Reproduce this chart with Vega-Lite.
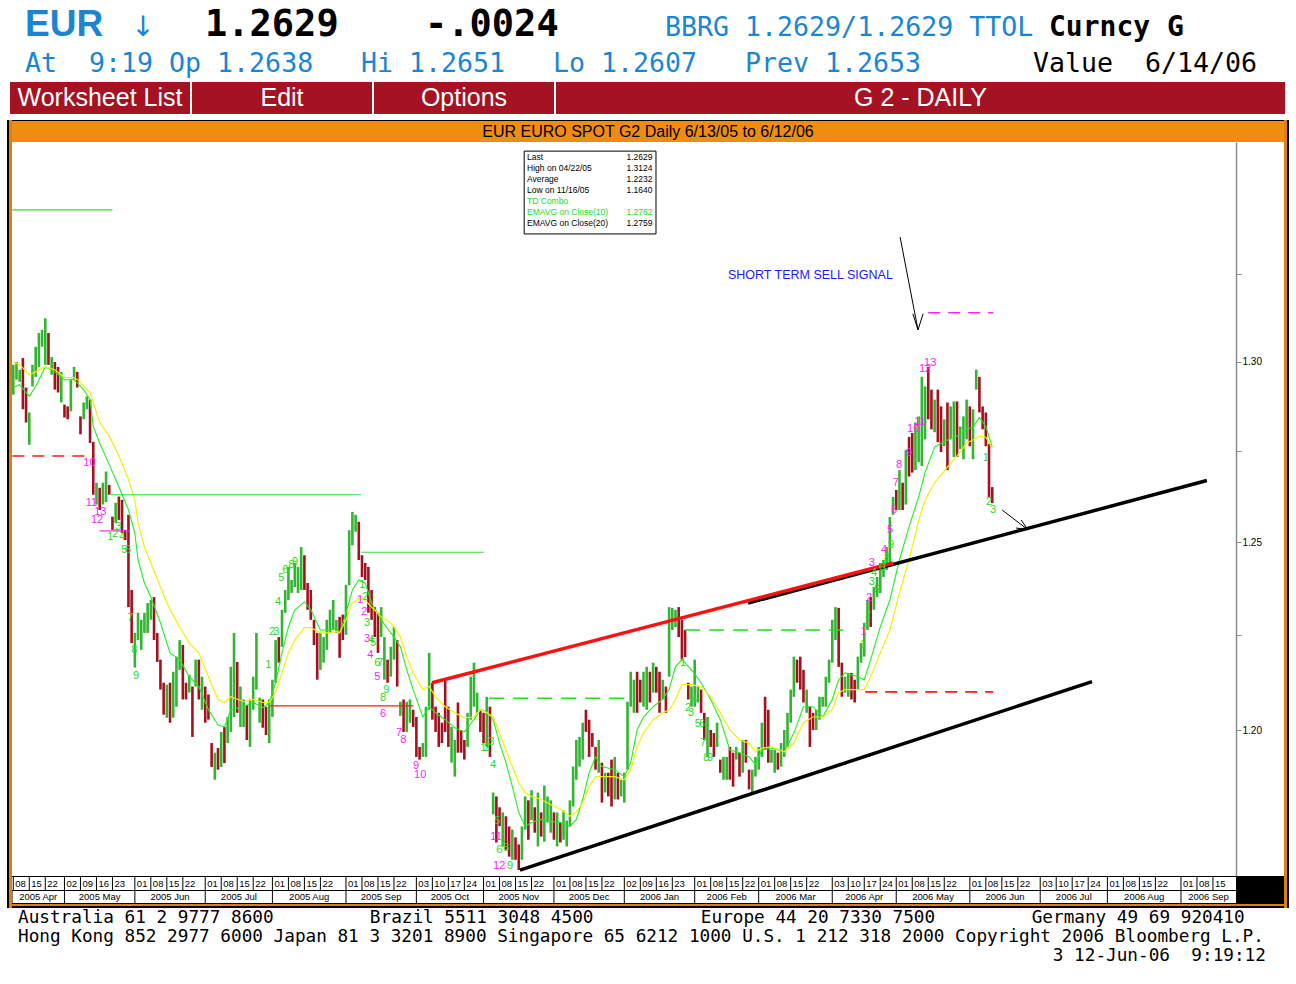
{
"$schema":"https://vega.github.io/schema/vega-lite/v6.json",
"background":"#ffffff","padding":0,"spacing":0,
"config":{"view":{"stroke":null},"concat":{"spacing":0},"font":"Liberation Sans"},
"datasets":{
"bars":[
{"t":0,"hi":1.2992,"lo":1.2908,"dir":"up"},{"t":1,"hi":1.3000,"lo":1.2950,"dir":"up"},{"t":2,"hi":1.2978,"lo":1.2944,"dir":"up"},{"t":3,"hi":1.3011,"lo":1.2867,"dir":"down"},{"t":4,"hi":1.2928,"lo":1.2830,"dir":"down"},{"t":5,"hi":1.2858,"lo":1.2768,"dir":"up"},{"t":6,"hi":1.2992,"lo":1.2931,"dir":"up"},{"t":7,"hi":1.3043,"lo":1.2958,"dir":"up"},{"t":8,"hi":1.3082,"lo":1.2986,"dir":"up"},{"t":9,"hi":1.3091,"lo":1.3043,"dir":"up"},
{"t":10,"hi":1.3124,"lo":1.2992,"dir":"up"},{"t":11,"hi":1.3082,"lo":1.2992,"dir":"down"},{"t":12,"hi":1.3014,"lo":1.2964,"dir":"up"},{"t":13,"hi":1.3000,"lo":1.2922,"dir":"down"},{"t":14,"hi":1.2986,"lo":1.2914,"dir":"down"},{"t":15,"hi":1.2972,"lo":1.2886,"dir":"up"},{"t":16,"hi":1.2880,"lo":1.2844,"dir":"down"},{"t":17,"hi":1.2875,"lo":1.2839,"dir":"down"},{"t":18,"hi":1.2950,"lo":1.2861,"dir":"up"},{"t":19,"hi":1.2986,"lo":1.2950,"dir":"up"},
{"t":20,"hi":1.2972,"lo":1.2928,"dir":"down"},{"t":21,"hi":1.2847,"lo":1.2797,"dir":"down"},{"t":22,"hi":1.2886,"lo":1.2839,"dir":"up"},{"t":23,"hi":1.2903,"lo":1.2867,"dir":"up"},{"t":24,"hi":1.2894,"lo":1.2773,"dir":"down"},{"t":25,"hi":1.2776,"lo":1.2630,"dir":"down"},{"t":26,"hi":1.2663,"lo":1.2603,"dir":"up"},{"t":27,"hi":1.2649,"lo":1.2588,"dir":"down"},{"t":28,"hi":1.2663,"lo":1.2603,"dir":"up"},{"t":29,"hi":1.2694,"lo":1.2610,"dir":"up"},
{"t":30,"hi":1.2657,"lo":1.2630,"dir":"down"},{"t":31,"hi":1.2570,"lo":1.2534,"dir":"down"},{"t":32,"hi":1.2608,"lo":1.2553,"dir":"up"},{"t":33,"hi":1.2625,"lo":1.2561,"dir":"down"},{"t":34,"hi":1.2616,"lo":1.2525,"dir":"down"},{"t":35,"hi":1.2534,"lo":1.2506,"dir":"down"},{"t":36,"hi":1.2575,"lo":1.2325,"dir":"down"},{"t":37,"hi":1.2371,"lo":1.2229,"dir":"down"},{"t":38,"hi":1.2256,"lo":1.2164,"dir":"up"},{"t":39,"hi":1.2310,"lo":1.2237,"dir":"up"},
{"t":40,"hi":1.2291,"lo":1.2211,"dir":"up"},{"t":41,"hi":1.2310,"lo":1.2256,"dir":"up"},{"t":42,"hi":1.2336,"lo":1.2256,"dir":"up"},{"t":43,"hi":1.2344,"lo":1.2291,"dir":"up"},{"t":44,"hi":1.2352,"lo":1.2237,"dir":"down"},{"t":45,"hi":1.2256,"lo":1.2179,"dir":"down"},{"t":46,"hi":1.2185,"lo":1.2106,"dir":"down"},{"t":47,"hi":1.2124,"lo":1.2040,"dir":"down"},{"t":48,"hi":1.2119,"lo":1.2032,"dir":"up"},{"t":49,"hi":1.2124,"lo":1.2019,"dir":"down"},
{"t":50,"hi":1.2153,"lo":1.2032,"dir":"up"},{"t":51,"hi":1.2193,"lo":1.2061,"dir":"up"},{"t":52,"hi":1.2237,"lo":1.2158,"dir":"up"},{"t":53,"hi":1.2224,"lo":1.2080,"dir":"down"},{"t":54,"hi":1.2124,"lo":1.2080,"dir":"down"},{"t":55,"hi":1.2145,"lo":1.2098,"dir":"up"},{"t":56,"hi":1.2114,"lo":1.1982,"dir":"down"},{"t":57,"hi":1.2185,"lo":1.2114,"dir":"up"},{"t":58,"hi":1.2185,"lo":1.2080,"dir":"down"},{"t":59,"hi":1.2140,"lo":1.2053,"dir":"up"},
{"t":60,"hi":1.2114,"lo":1.2019,"dir":"down"},{"t":61,"hi":1.2093,"lo":1.2027,"dir":"down"},{"t":62,"hi":1.1966,"lo":1.1904,"dir":"down"},{"t":63,"hi":1.1941,"lo":1.1871,"dir":"up"},{"t":64,"hi":1.1953,"lo":1.1897,"dir":"down"},{"t":65,"hi":1.1995,"lo":1.1904,"dir":"up"},{"t":66,"hi":1.2008,"lo":1.1914,"dir":"down"},{"t":67,"hi":1.2034,"lo":1.1966,"dir":"up"},{"t":68,"hi":1.2166,"lo":1.1995,"dir":"up"},{"t":69,"hi":1.2256,"lo":1.2034,"dir":"up"},
{"t":70,"hi":1.2179,"lo":1.2045,"dir":"down"},{"t":71,"hi":1.2114,"lo":1.2008,"dir":"up"},{"t":72,"hi":1.2080,"lo":1.2008,"dir":"up"},{"t":73,"hi":1.2066,"lo":1.1974,"dir":"down"},{"t":74,"hi":1.2080,"lo":1.1956,"dir":"up"},{"t":75,"hi":1.2140,"lo":1.2053,"dir":"up"},{"t":76,"hi":1.2256,"lo":1.2106,"dir":"up"},{"t":77,"hi":1.2085,"lo":1.2019,"dir":"up"},{"t":78,"hi":1.2080,"lo":1.2006,"dir":"down"},{"t":79,"hi":1.2061,"lo":1.1987,"dir":"down"},
{"t":80,"hi":1.2080,"lo":1.1966,"dir":"up"},{"t":81,"hi":1.2132,"lo":1.2034,"dir":"up"},{"t":82,"hi":1.2237,"lo":1.2124,"dir":"up"},{"t":83,"hi":1.2245,"lo":1.2177,"dir":"down"},{"t":84,"hi":1.2318,"lo":1.2219,"dir":"up"},{"t":85,"hi":1.2371,"lo":1.2310,"dir":"up"},{"t":86,"hi":1.2433,"lo":1.2344,"dir":"up"},{"t":87,"hi":1.2398,"lo":1.2363,"dir":"up"},{"t":88,"hi":1.2444,"lo":1.2379,"dir":"up"},{"t":89,"hi":1.2433,"lo":1.2363,"dir":"up"},
{"t":90,"hi":1.2487,"lo":1.2371,"dir":"up"},{"t":91,"hi":1.2465,"lo":1.2371,"dir":"down"},{"t":92,"hi":1.2390,"lo":1.2318,"dir":"down"},{"t":93,"hi":1.2371,"lo":1.2291,"dir":"down"},{"t":94,"hi":1.2291,"lo":1.2224,"dir":"down"},{"t":95,"hi":1.2256,"lo":1.2132,"dir":"down"},{"t":96,"hi":1.2256,"lo":1.2158,"dir":"up"},{"t":97,"hi":1.2245,"lo":1.2177,"dir":"up"},{"t":98,"hi":1.2291,"lo":1.2211,"dir":"up"},{"t":99,"hi":1.2318,"lo":1.2256,"dir":"up"},
{"t":100,"hi":1.2344,"lo":1.2264,"dir":"up"},{"t":101,"hi":1.2291,"lo":1.2256,"dir":"up"},{"t":102,"hi":1.2299,"lo":1.2190,"dir":"down"},{"t":103,"hi":1.2305,"lo":1.2237,"dir":"down"},{"t":104,"hi":1.2385,"lo":1.2251,"dir":"up"},{"t":105,"hi":1.2533,"lo":1.2384,"dir":"up"},{"t":106,"hi":1.2583,"lo":1.2492,"dir":"up"},{"t":107,"hi":1.2575,"lo":1.2529,"dir":"up"},{"t":108,"hi":1.2556,"lo":1.2452,"dir":"down"},{"t":109,"hi":1.2465,"lo":1.2406,"dir":"down"},
{"t":110,"hi":1.2444,"lo":1.2398,"dir":"down"},{"t":111,"hi":1.2433,"lo":1.2310,"dir":"down"},{"t":112,"hi":1.2371,"lo":1.2291,"dir":"down"},{"t":113,"hi":1.2325,"lo":1.2245,"dir":"down"},{"t":114,"hi":1.2310,"lo":1.2203,"dir":"down"},{"t":115,"hi":1.2325,"lo":1.2245,"dir":"up"},{"t":116,"hi":1.2245,"lo":1.2132,"dir":"up"},{"t":117,"hi":1.2185,"lo":1.2124,"dir":"down"},{"t":118,"hi":1.2219,"lo":1.2140,"dir":"up"},{"t":119,"hi":1.2272,"lo":1.2185,"dir":"up"},
{"t":120,"hi":1.2237,"lo":1.2114,"dir":"down"},{"t":121,"hi":1.2074,"lo":1.2037,"dir":"up"},{"t":122,"hi":1.2080,"lo":1.1995,"dir":"down"},{"t":123,"hi":1.2074,"lo":1.1995,"dir":"up"},{"t":124,"hi":1.2080,"lo":1.2019,"dir":"up"},{"t":125,"hi":1.2053,"lo":1.2008,"dir":"down"},{"t":126,"hi":1.2034,"lo":1.1930,"dir":"down"},{"t":127,"hi":1.1956,"lo":1.1923,"dir":"down"},{"t":128,"hi":1.1966,"lo":1.1930,"dir":"up"},{"t":129,"hi":1.2061,"lo":1.1930,"dir":"up"},
{"t":130,"hi":1.2203,"lo":1.2053,"dir":"up"},{"t":131,"hi":1.2124,"lo":1.2027,"dir":"down"},{"t":132,"hi":1.2061,"lo":1.1995,"dir":"down"},{"t":133,"hi":1.2045,"lo":1.1956,"dir":"down"},{"t":134,"hi":1.2019,"lo":1.1966,"dir":"down"},{"t":135,"hi":1.2132,"lo":1.1995,"dir":"down"},{"t":136,"hi":1.2061,"lo":1.1956,"dir":"down"},{"t":137,"hi":1.2008,"lo":1.1915,"dir":"up"},{"t":138,"hi":1.1974,"lo":1.1879,"dir":"up"},{"t":139,"hi":1.2072,"lo":1.1941,"dir":"down"},
{"t":140,"hi":1.2000,"lo":1.1941,"dir":"down"},{"t":141,"hi":1.1974,"lo":1.1923,"dir":"down"},{"t":142,"hi":1.2045,"lo":1.1956,"dir":"up"},{"t":143,"hi":1.2140,"lo":1.2027,"dir":"up"},{"t":144,"hi":1.2177,"lo":1.2061,"dir":"up"},{"t":145,"hi":1.2098,"lo":1.2045,"dir":"up"},{"t":146,"hi":1.2053,"lo":1.1995,"dir":"down"},{"t":147,"hi":1.2045,"lo":1.1966,"dir":"down"},{"t":148,"hi":1.2087,"lo":1.1956,"dir":"up"},{"t":149,"hi":1.2061,"lo":1.1930,"dir":"down"},
{"t":150,"hi":1.1838,"lo":1.1782,"dir":"up"},{"t":151,"hi":1.1828,"lo":1.1710,"dir":"down"},{"t":152,"hi":1.1800,"lo":1.1752,"dir":"down"},{"t":153,"hi":1.1787,"lo":1.1700,"dir":"up"},{"t":154,"hi":1.1777,"lo":1.1692,"dir":"down"},{"t":155,"hi":1.1751,"lo":1.1674,"dir":"down"},{"t":156,"hi":1.1743,"lo":1.1666,"dir":"up"},{"t":157,"hi":1.1723,"lo":1.1666,"dir":"down"},{"t":158,"hi":1.1705,"lo":1.1640,"dir":"down"},{"t":159,"hi":1.1751,"lo":1.1666,"dir":"up"},
{"t":160,"hi":1.1828,"lo":1.1743,"dir":"up"},{"t":161,"hi":1.1818,"lo":1.1717,"dir":"down"},{"t":162,"hi":1.1844,"lo":1.1767,"dir":"up"},{"t":163,"hi":1.1800,"lo":1.1735,"dir":"down"},{"t":164,"hi":1.1838,"lo":1.1700,"dir":"up"},{"t":165,"hi":1.1787,"lo":1.1725,"dir":"down"},{"t":166,"hi":1.1856,"lo":1.1712,"dir":"up"},{"t":167,"hi":1.1828,"lo":1.1761,"dir":"up"},{"t":168,"hi":1.1818,"lo":1.1735,"dir":"up"},{"t":169,"hi":1.1787,"lo":1.1717,"dir":"down"},
{"t":170,"hi":1.1787,"lo":1.1700,"dir":"up"},{"t":171,"hi":1.1761,"lo":1.1710,"dir":"down"},{"t":172,"hi":1.1792,"lo":1.1717,"dir":"up"},{"t":173,"hi":1.1766,"lo":1.1700,"dir":"up"},{"t":174,"hi":1.1818,"lo":1.1751,"dir":"up"},{"t":175,"hi":1.1905,"lo":1.1802,"dir":"up"},{"t":176,"hi":1.1974,"lo":1.1871,"dir":"up"},{"t":177,"hi":1.1982,"lo":1.1905,"dir":"up"},{"t":178,"hi":1.2019,"lo":1.1923,"dir":"up"},{"t":179,"hi":1.2053,"lo":1.1995,"dir":"down"},
{"t":180,"hi":1.2027,"lo":1.1930,"dir":"down"},{"t":181,"hi":1.1992,"lo":1.1956,"dir":"down"},{"t":182,"hi":1.1956,"lo":1.1897,"dir":"down"},{"t":183,"hi":1.1974,"lo":1.1889,"dir":"up"},{"t":184,"hi":1.1915,"lo":1.1812,"dir":"down"},{"t":185,"hi":1.1889,"lo":1.1838,"dir":"up"},{"t":186,"hi":1.1889,"lo":1.1828,"dir":"down"},{"t":187,"hi":1.1923,"lo":1.1802,"dir":"down"},{"t":188,"hi":1.1930,"lo":1.1820,"dir":"up"},{"t":189,"hi":1.1889,"lo":1.1820,"dir":"down"},
{"t":190,"hi":1.1871,"lo":1.1828,"dir":"up"},{"t":191,"hi":1.1889,"lo":1.1812,"dir":"up"},{"t":192,"hi":1.2074,"lo":1.1897,"dir":"up"},{"t":193,"hi":1.2153,"lo":1.2061,"dir":"up"},{"t":194,"hi":1.2132,"lo":1.2045,"dir":"up"},{"t":195,"hi":1.2153,"lo":1.2045,"dir":"down"},{"t":196,"hi":1.2132,"lo":1.2072,"dir":"down"},{"t":197,"hi":1.2153,"lo":1.2061,"dir":"up"},{"t":198,"hi":1.2166,"lo":1.2053,"dir":"up"},{"t":199,"hi":1.2153,"lo":1.2072,"dir":"down"},
{"t":200,"hi":1.2177,"lo":1.2098,"dir":"up"},{"t":201,"hi":1.2166,"lo":1.2098,"dir":"down"},{"t":202,"hi":1.2153,"lo":1.2045,"dir":"down"},{"t":203,"hi":1.2132,"lo":1.2080,"dir":"up"},{"t":204,"hi":1.2114,"lo":1.2045,"dir":"down"},{"t":205,"hi":1.2325,"lo":1.2140,"dir":"up"},{"t":206,"hi":1.2323,"lo":1.2264,"dir":"up"},{"t":207,"hi":1.2318,"lo":1.2272,"dir":"up"},{"t":208,"hi":1.2325,"lo":1.2245,"dir":"down"},{"t":209,"hi":1.2291,"lo":1.2185,"dir":"down"},
{"t":210,"hi":1.2264,"lo":1.2192,"dir":"down"},{"t":211,"hi":1.2124,"lo":1.2080,"dir":"down"},{"t":212,"hi":1.2114,"lo":1.2061,"dir":"up"},{"t":213,"hi":1.2185,"lo":1.2061,"dir":"up"},{"t":214,"hi":1.2114,"lo":1.2072,"dir":"up"},{"t":215,"hi":1.2106,"lo":1.2045,"dir":"down"},{"t":216,"hi":1.2045,"lo":1.1974,"dir":"down"},{"t":217,"hi":1.2034,"lo":1.1930,"dir":"up"},{"t":218,"hi":1.2000,"lo":1.1956,"dir":"down"},{"t":219,"hi":1.1992,"lo":1.1930,"dir":"down"},
{"t":220,"hi":1.2019,"lo":1.1956,"dir":"up"},{"t":221,"hi":1.1923,"lo":1.1889,"dir":"down"},{"t":222,"hi":1.1930,"lo":1.1871,"dir":"up"},{"t":223,"hi":1.1930,"lo":1.1871,"dir":"up"},{"t":224,"hi":1.1956,"lo":1.1871,"dir":"down"},{"t":225,"hi":1.1941,"lo":1.1853,"dir":"down"},{"t":226,"hi":1.1956,"lo":1.1923,"dir":"up"},{"t":227,"hi":1.1941,"lo":1.1879,"dir":"down"},{"t":228,"hi":1.1974,"lo":1.1889,"dir":"up"},{"t":229,"hi":1.1974,"lo":1.1915,"dir":"down"},
{"t":230,"hi":1.1897,"lo":1.1846,"dir":"down"},{"t":231,"hi":1.1897,"lo":1.1838,"dir":"up"},{"t":232,"hi":1.1930,"lo":1.1879,"dir":"up"},{"t":233,"hi":1.1956,"lo":1.1897,"dir":"up"},{"t":234,"hi":1.2019,"lo":1.1930,"dir":"up"},{"t":235,"hi":1.2087,"lo":1.1948,"dir":"down"},{"t":236,"hi":1.2053,"lo":1.1915,"dir":"down"},{"t":237,"hi":1.1948,"lo":1.1915,"dir":"up"},{"t":238,"hi":1.1948,"lo":1.1889,"dir":"up"},{"t":239,"hi":1.1941,"lo":1.1897,"dir":"down"},
{"t":240,"hi":1.1966,"lo":1.1905,"dir":"up"},{"t":241,"hi":1.2000,"lo":1.1930,"dir":"up"},{"t":242,"hi":1.2045,"lo":1.1956,"dir":"up"},{"t":243,"hi":1.2106,"lo":1.2019,"dir":"up"},{"t":244,"hi":1.2193,"lo":1.2087,"dir":"up"},{"t":245,"hi":1.2185,"lo":1.2124,"dir":"down"},{"t":246,"hi":1.2193,"lo":1.2106,"dir":"down"},{"t":247,"hi":1.2158,"lo":1.2072,"dir":"down"},{"t":248,"hi":1.2106,"lo":1.2045,"dir":"up"},{"t":249,"hi":1.2061,"lo":1.1956,"dir":"down"},
{"t":250,"hi":1.2045,"lo":1.2000,"dir":"down"},{"t":251,"hi":1.2053,"lo":1.2000,"dir":"up"},{"t":252,"hi":1.2087,"lo":1.2027,"dir":"up"},{"t":253,"hi":1.2087,"lo":1.2061,"dir":"up"},{"t":254,"hi":1.2140,"lo":1.2061,"dir":"up"},{"t":255,"hi":1.2185,"lo":1.2124,"dir":"up"},{"t":256,"hi":1.2291,"lo":1.2177,"dir":"up"},{"t":257,"hi":1.2325,"lo":1.2237,"dir":"up"},{"t":258,"hi":1.2323,"lo":1.2166,"dir":"down"},{"t":259,"hi":1.2177,"lo":1.2087,"dir":"down"},
{"t":260,"hi":1.2140,"lo":1.2098,"dir":"up"},{"t":261,"hi":1.2150,"lo":1.2087,"dir":"up"},{"t":262,"hi":1.2150,"lo":1.2080,"dir":"down"},{"t":263,"hi":1.2132,"lo":1.2072,"dir":"down"},{"t":264,"hi":1.2193,"lo":1.2106,"dir":"up"},{"t":265,"hi":1.2229,"lo":1.2177,"dir":"up"},{"t":266,"hi":1.2283,"lo":1.2193,"dir":"up"},{"t":267,"hi":1.2344,"lo":1.2264,"dir":"up"},{"t":268,"hi":1.2352,"lo":1.2272,"dir":"down"},{"t":269,"hi":1.2379,"lo":1.2318,"dir":"up"},
{"t":270,"hi":1.2406,"lo":1.2352,"dir":"up"},{"t":271,"hi":1.2444,"lo":1.2363,"dir":"up"},{"t":272,"hi":1.2452,"lo":1.2406,"dir":"up"},{"t":273,"hi":1.2487,"lo":1.2425,"dir":"up"},{"t":274,"hi":1.2569,"lo":1.2444,"dir":"up"},{"t":275,"hi":1.2624,"lo":1.2575,"dir":"up"},{"t":276,"hi":1.2643,"lo":1.2588,"dir":"down"},{"t":277,"hi":1.2698,"lo":1.2588,"dir":"up"},{"t":278,"hi":1.2663,"lo":1.2588,"dir":"down"},{"t":279,"hi":1.2754,"lo":1.2603,"dir":"up"},
{"t":280,"hi":1.2790,"lo":1.2680,"dir":"down"},{"t":281,"hi":1.2801,"lo":1.2691,"dir":"down"},{"t":282,"hi":1.2830,"lo":1.2698,"dir":"up"},{"t":283,"hi":1.2847,"lo":1.2720,"dir":"up"},{"t":284,"hi":1.2958,"lo":1.2709,"dir":"up"},{"t":285,"hi":1.2931,"lo":1.2783,"dir":"up"},{"t":286,"hi":1.2986,"lo":1.2839,"dir":"down"},{"t":287,"hi":1.2922,"lo":1.2811,"dir":"down"},{"t":288,"hi":1.2894,"lo":1.2803,"dir":"up"},{"t":289,"hi":1.2922,"lo":1.2775,"dir":"down"},
{"t":290,"hi":1.2875,"lo":1.2748,"dir":"down"},{"t":291,"hi":1.2839,"lo":1.2764,"dir":"up"},{"t":292,"hi":1.2886,"lo":1.2698,"dir":"down"},{"t":293,"hi":1.2875,"lo":1.2783,"dir":"up"},{"t":294,"hi":1.2889,"lo":1.2734,"dir":"up"},{"t":295,"hi":1.2889,"lo":1.2734,"dir":"down"},{"t":296,"hi":1.2819,"lo":1.2756,"dir":"up"},{"t":297,"hi":1.2847,"lo":1.2728,"dir":"up"},{"t":298,"hi":1.2894,"lo":1.2783,"dir":"up"},{"t":299,"hi":1.2875,"lo":1.2764,"dir":"down"},
{"t":300,"hi":1.2867,"lo":1.2728,"dir":"up"},{"t":301,"hi":1.2978,"lo":1.2922,"dir":"up"},{"t":302,"hi":1.2958,"lo":1.2858,"dir":"down"},{"t":303,"hi":1.2875,"lo":1.2811,"dir":"down"},{"t":304,"hi":1.2858,"lo":1.2764,"dir":"down"},{"t":305,"hi":1.2770,"lo":1.2624,"dir":"down"},{"t":306,"hi":1.2651,"lo":1.2607,"dir":"down"}
],
"ema":[
{"t":0,"e10":1.2928,"e20":1.3000},{"t":2,"e10":1.2936,"e20":1.2992},{"t":5,"e10":1.2903,"e20":1.2964},{"t":7,"e10":1.2931,"e20":1.2972},{"t":10,"e10":1.2986,"e20":1.2986},{"t":13,"e10":1.2972,"e20":1.2978},{"t":16,"e10":1.2950,"e20":1.2956},{"t":19,"e10":1.2950,"e20":1.2956},{"t":21,"e10":1.2931,"e20":1.2944},{"t":22,"e10":1.2922,"e20":1.2931},{"t":24,"e10":1.2894,"e20":1.2914},{"t":25,"e10":1.2819,"e20":1.2886},{"t":27,"e10":1.2773,"e20":1.2830},{"t":30,"e10":1.2713,"e20":1.2792},{"t":33,"e10":1.2652,"e20":1.2737},{"t":36,"e10":1.2589,"e20":1.2672},{"t":38,"e10":1.2525,"e20":1.2616},{"t":39,"e10":1.2452,"e20":1.2553},{"t":41,"e10":1.2390,"e20":1.2487},{"t":43,"e10":1.2352,"e20":1.2444},{"t":46,"e10":1.2283,"e20":1.2379},{"t":49,"e10":1.2203,"e20":1.2318},{"t":52,"e10":1.2185,"e20":1.2272},{"t":55,"e10":1.2140,"e20":1.2229},{"t":58,"e10":1.2114,"e20":1.2203},{"t":61,"e10":1.2053,"e20":1.2140},{"t":64,"e10":1.2013,"e20":1.2080},{"t":66,"e10":1.2008,"e20":1.2072},{"t":68,"e10":1.2053,"e20":1.2087},{"t":72,"e10":1.2061,"e20":1.2074},{"t":75,"e10":1.2072,"e20":1.2080},{"t":78,"e10":1.2058,"e20":1.2072},{"t":80,"e10":1.2072,"e20":1.2072},{"t":82,"e10":1.2124,"e20":1.2098},{"t":84,"e10":1.2203,"e20":1.2150},{"t":86,"e10":1.2272,"e20":1.2203},{"t":88,"e10":1.2318,"e20":1.2237},{"t":91,"e10":1.2339,"e20":1.2270},{"t":93,"e10":1.2318,"e20":1.2270},{"t":96,"e10":1.2264,"e20":1.2256},{"t":99,"e10":1.2264,"e20":1.2256},{"t":101,"e10":1.2270,"e20":1.2260},{"t":102,"e10":1.2256,"e20":1.2256},{"t":104,"e10":1.2310,"e20":1.2291},{"t":106,"e10":1.2371,"e20":1.2336},{"t":108,"e10":1.2398,"e20":1.2349},{"t":110,"e10":1.2390,"e20":1.2344},{"t":112,"e10":1.2336,"e20":1.2325},{"t":115,"e10":1.2291,"e20":1.2299},{"t":118,"e10":1.2256,"e20":1.2283},{"t":119,"e10":1.2245,"e20":1.2272},{"t":121,"e10":1.2219,"e20":1.2245},{"t":123,"e10":1.2158,"e20":1.2193},{"t":125,"e10":1.2106,"e20":1.2150},{"t":128,"e10":1.2034,"e20":1.2106},{"t":130,"e10":1.2061,"e20":1.2114},{"t":132,"e10":1.2045,"e20":1.2087},{"t":135,"e10":1.2027,"e20":1.2061},{"t":138,"e10":1.2006,"e20":1.2045},{"t":141,"e10":1.1995,"e20":1.2032},{"t":144,"e10":1.2027,"e20":1.2034},{"t":146,"e10":1.2053,"e20":1.2053},{"t":148,"e10":1.2048,"e20":1.2045},{"t":150,"e10":1.2027,"e20":1.2034},{"t":152,"e10":1.1966,"e20":1.1992},{"t":154,"e10":1.1915,"e20":1.1948},{"t":156,"e10":1.1853,"e20":1.1905},{"t":158,"e10":1.1787,"e20":1.1863},{"t":160,"e10":1.1751,"e20":1.1838},{"t":162,"e10":1.1761,"e20":1.1828},{"t":165,"e10":1.1769,"e20":1.1820},{"t":168,"e10":1.1764,"e20":1.1807},{"t":171,"e10":1.1761,"e20":1.1795},{"t":174,"e10":1.1751,"e20":1.1777},{"t":176,"e10":1.1769,"e20":1.1787},{"t":178,"e10":1.1820,"e20":1.1812},{"t":180,"e10":1.1889,"e20":1.1853},{"t":182,"e10":1.1930,"e20":1.1879},{"t":184,"e10":1.1905,"e20":1.1879},{"t":188,"e10":1.1897,"e20":1.1879},{"t":191,"e10":1.1879,"e20":1.1871},{"t":193,"e10":1.1915,"e20":1.1897},{"t":195,"e10":1.2000,"e20":1.1956},{"t":197,"e10":1.2034,"e20":1.1992},{"t":200,"e10":1.2061,"e20":1.2027},{"t":203,"e10":1.2080,"e20":1.2045},{"t":205,"e10":1.2106,"e20":1.2053},{"t":207,"e10":1.2166,"e20":1.2080},{"t":209,"e10":1.2185,"e20":1.2119},{"t":212,"e10":1.2158,"e20":1.2119},{"t":215,"e10":1.2124,"e20":1.2114},{"t":218,"e10":1.2080,"e20":1.2087},{"t":221,"e10":1.2027,"e20":1.2045},{"t":224,"e10":1.1948,"e20":1.2000},{"t":227,"e10":1.1941,"e20":1.1974},{"t":230,"e10":1.1930,"e20":1.1966},{"t":232,"e10":1.1910,"e20":1.1943},{"t":234,"e10":1.1948,"e20":1.1953},{"t":237,"e10":1.1953,"e20":1.1956},{"t":241,"e10":1.1943,"e20":1.1943},{"t":244,"e10":1.1992,"e20":1.1966},{"t":247,"e10":1.2061,"e20":1.2019},{"t":250,"e10":1.2061,"e20":1.2034},{"t":253,"e10":1.2034,"e20":1.2034},{"t":256,"e10":1.2080,"e20":1.2053},{"t":258,"e10":1.2132,"e20":1.2098},{"t":260,"e10":1.2150,"e20":1.2106},{"t":264,"e10":1.2140,"e20":1.2106},{"t":266,"e10":1.2132,"e20":1.2106},{"t":268,"e10":1.2185,"e20":1.2140},{"t":271,"e10":1.2272,"e20":1.2203},{"t":274,"e10":1.2344,"e20":1.2264},{"t":277,"e10":1.2452,"e20":1.2363},{"t":280,"e10":1.2542,"e20":1.2452},{"t":283,"e10":1.2624,"e20":1.2560},{"t":285,"e10":1.2691,"e20":1.2615},{"t":288,"e10":1.2762,"e20":1.2663},{"t":292,"e10":1.2781,"e20":1.2706},{"t":295,"e10":1.2792,"e20":1.2737},{"t":298,"e10":1.2811,"e20":1.2773},{"t":300,"e10":1.2817,"e20":1.2781},{"t":302,"e10":1.2844,"e20":1.2792},{"t":304,"e10":1.2819,"e20":1.2789},{"t":306,"e10":1.2762,"e20":1.2759}
],
"td":[
{"t":23.8,"p":1.2718,"n":"10","k":"countdown"},{"t":24.4,"p":1.2608,"n":"11","k":"countdown"},{"t":26.2,"p":1.2561,"n":"12","k":"countdown"},{"t":27.2,"p":1.2583,"n":"13","k":"countdown"},
{"t":108.4,"p":1.2344,"n":"1","k":"countdown"},{"t":109.7,"p":1.2312,"n":"2","k":"countdown"},{"t":110.6,"p":1.2240,"n":"3","k":"countdown"},{"t":111.6,"p":1.2198,"n":"4","k":"countdown"},{"t":113.8,"p":1.2140,"n":"5","k":"countdown"},{"t":115.6,"p":1.2042,"n":"6","k":"countdown"},{"t":120.6,"p":1.1992,"n":"7","k":"countdown"},{"t":121.9,"p":1.1974,"n":"8","k":"countdown"},{"t":125.9,"p":1.1907,"n":"9","k":"countdown"},{"t":127.2,"p":1.1884,"n":"10","k":"countdown"},
{"t":150.9,"p":1.1723,"n":"11","k":"countdown"},{"t":151.9,"p":1.1651,"n":"12","k":"countdown"},
{"t":265.9,"p":1.2259,"n":"1","k":"countdown"},{"t":267.5,"p":1.2349,"n":"2","k":"countdown"},{"t":268.4,"p":1.2444,"n":"3","k":"countdown"},{"t":272.2,"p":1.2478,"n":"4","k":"countdown"},{"t":274.1,"p":1.2533,"n":"5","k":"countdown"},{"t":275.3,"p":1.2589,"n":"6","k":"countdown"},{"t":275.9,"p":1.2663,"n":"7","k":"countdown"},{"t":276.9,"p":1.2713,"n":"8","k":"countdown"},{"t":280.0,"p":1.2746,"n":"9","k":"countdown"},{"t":281.3,"p":1.2811,"n":"10","k":"countdown"},{"t":283.4,"p":1.2830,"n":"11","k":"countdown"},{"t":285.0,"p":1.2980,"n":"12","k":"countdown"},{"t":286.6,"p":1.2997,"n":"13","k":"countdown"},
{"t":30.3,"p":1.2515,"n":"1","k":"setup"},{"t":31.9,"p":1.2523,"n":"2","k":"setup"},{"t":32.8,"p":1.2542,"n":"3","k":"setup"},{"t":34.1,"p":1.2515,"n":"4","k":"setup"},{"t":34.7,"p":1.2478,"n":"5","k":"setup"},{"t":35.9,"p":1.2478,"n":"6","k":"setup"},{"t":36.6,"p":1.2296,"n":"7","k":"setup"},{"t":37.8,"p":1.2211,"n":"8","k":"setup"},{"t":38.4,"p":1.2143,"n":"9","k":"setup"},
{"t":79.7,"p":1.2171,"n":"1","k":"setup"},{"t":80.9,"p":1.2259,"n":"2","k":"setup"},{"t":82.2,"p":1.2259,"n":"3","k":"setup"},{"t":82.8,"p":1.2339,"n":"4","k":"setup"},{"t":83.8,"p":1.2403,"n":"5","k":"setup"},{"t":85.0,"p":1.2425,"n":"6","k":"setup"},{"t":86.0,"p":1.2419,"n":"7","k":"setup"},{"t":86.9,"p":1.2438,"n":"8","k":"setup"},{"t":88.1,"p":1.2446,"n":"9","k":"setup"},
{"t":109.1,"p":1.2384,"n":"1","k":"setup"},{"t":110.0,"p":1.2352,"n":"2","k":"setup"},{"t":110.6,"p":1.2282,"n":"3","k":"setup"},{"t":111.9,"p":1.2237,"n":"4","k":"setup"},{"t":112.5,"p":1.2229,"n":"5","k":"setup"},{"t":113.8,"p":1.2177,"n":"6","k":"setup"},{"t":114.7,"p":1.2177,"n":"7","k":"setup"},{"t":115.6,"p":1.2083,"n":"8","k":"setup"},{"t":116.6,"p":1.2106,"n":"9","k":"setup"},
{"t":146.9,"p":1.1953,"n":"1","k":"setup"},{"t":148.1,"p":1.1953,"n":"2","k":"setup"},{"t":149.4,"p":1.1969,"n":"3","k":"setup"},{"t":150.0,"p":1.1910,"n":"4","k":"setup"},{"t":151.3,"p":1.1764,"n":"5","k":"setup"},{"t":151.9,"p":1.1692,"n":"6","k":"setup"},{"t":153.1,"p":1.1705,"n":"7","k":"setup"},{"t":154.1,"p":1.1697,"n":"8","k":"setup"},{"t":155.3,"p":1.1651,"n":"9","k":"setup"},
{"t":209.4,"p":1.2177,"n":"1","k":"setup"},{"t":210.9,"p":1.2058,"n":"2","k":"setup"},{"t":211.9,"p":1.2045,"n":"3","k":"setup"},{"t":212.8,"p":1.2079,"n":"4","k":"setup"},{"t":214.0,"p":1.2016,"n":"5","k":"setup"},{"t":215.3,"p":1.2016,"n":"6","k":"setup"},{"t":215.6,"p":1.1966,"n":"7","k":"setup"},{"t":216.6,"p":1.1928,"n":"8","k":"setup"},{"t":217.8,"p":1.1928,"n":"9","k":"setup"},
{"t":265.6,"p":1.2224,"n":"1","k":"setup"},{"t":267.2,"p":1.2304,"n":"2","k":"setup"},{"t":268.4,"p":1.2392,"n":"3","k":"setup"},{"t":269.1,"p":1.2417,"n":"4","k":"setup"},{"t":270.0,"p":1.2371,"n":"5","k":"setup"},{"t":271.6,"p":1.2430,"n":"6","k":"setup"},{"t":272.5,"p":1.2438,"n":"7","k":"setup"},{"t":273.1,"p":1.2457,"n":"8","k":"setup"},{"t":274.4,"p":1.2492,"n":"9","k":"setup"},
{"t":304.0,"p":1.2732,"n":"1","k":"setup"},{"t":305.0,"p":1.2611,"n":"2","k":"setup"},{"t":306.3,"p":1.2588,"n":"3","k":"setup"}
],
"days":[
{"t":0,"lab":"08"},{"t":5,"lab":"15"},{"t":10,"lab":"22"},{"t":16,"lab":"02"},{"t":21,"lab":"09"},{"t":26,"lab":"16"},{"t":31,"lab":"23"},{"t":38,"lab":"01"},{"t":43,"lab":"08"},{"t":48,"lab":"15"},{"t":53,"lab":"22"},{"t":60,"lab":"01"},{"t":65,"lab":"08"},{"t":70,"lab":"15"},{"t":75,"lab":"22"},{"t":81,"lab":"01"},{"t":86,"lab":"08"},{"t":91,"lab":"15"},{"t":96,"lab":"22"},{"t":104,"lab":"01"},{"t":109,"lab":"08"},{"t":114,"lab":"15"},{"t":119,"lab":"22"},{"t":126,"lab":"03"},{"t":131,"lab":"10"},{"t":136,"lab":"17"},{"t":141,"lab":"24"},{"t":147,"lab":"01"},{"t":152,"lab":"08"},{"t":157,"lab":"15"},{"t":162,"lab":"22"},{"t":169,"lab":"01"},{"t":174,"lab":"08"},{"t":179,"lab":"15"},{"t":184,"lab":"22"},{"t":191,"lab":"02"},{"t":196,"lab":"09"},{"t":201,"lab":"16"},{"t":206,"lab":"23"},{"t":213,"lab":"01"},{"t":218,"lab":"08"},{"t":223,"lab":"15"},{"t":228,"lab":"22"},{"t":233,"lab":"01"},{"t":238,"lab":"08"},{"t":243,"lab":"15"},{"t":248,"lab":"22"},{"t":256,"lab":"03"},{"t":261,"lab":"10"},{"t":266,"lab":"17"},{"t":271,"lab":"24"},{"t":276,"lab":"01"},{"t":281,"lab":"08"},{"t":286,"lab":"15"},{"t":291,"lab":"22"},{"t":299,"lab":"01"},{"t":304,"lab":"08"},{"t":309,"lab":"15"},{"t":314,"lab":"22"},{"t":321,"lab":"03"},{"t":326,"lab":"10"},{"t":331,"lab":"17"},{"t":336,"lab":"24"},{"t":342,"lab":"01"},{"t":347,"lab":"08"},{"t":352,"lab":"15"},{"t":357,"lab":"22"},{"t":365,"lab":"01"},{"t":370,"lab":"08"},{"t":375,"lab":"15"}
],
"months":[
{"m":"2005 Apr","t0":-0.4,"tm":7.8},{"m":"2005 May","t0":16,"tm":27},{"m":"2005 Jun","t0":38,"tm":49},{"m":"2005 Jul","t0":60,"tm":70.5},{"m":"2005 Aug","t0":81,"tm":92.5},{"m":"2005 Sep","t0":104,"tm":115},{"m":"2005 Oct","t0":126,"tm":136.5},{"m":"2005 Nov","t0":147,"tm":158},{"m":"2005 Dec","t0":169,"tm":180},{"m":"2006 Jan","t0":191,"tm":202},{"m":"2006 Feb","t0":213,"tm":223},{"m":"2006 Mar","t0":233,"tm":244.5},{"m":"2006 Apr","t0":256,"tm":266},{"m":"2006 May","t0":276,"tm":287.5},{"m":"2006 Jun","t0":299,"tm":310},{"m":"2006 Jul","t0":321,"tm":331.5},{"m":"2006 Aug","t0":342,"tm":353.5},{"m":"2006 Sep","t0":365,"tm":373.6}
]
},
"vconcat":[
{"width":1296,"height":82,"data":{"values":[{}]},
 "layer":[
 {"mark":{"type":"text","align":"left","baseline":"alphabetic","font":"Liberation Sans","fontSize":37,"fontWeight":"bold","color":"#1a86d2"},"encoding":{"x":{"datum":1.5625,"type":"quantitative","scale":{"domain":[0,81],"nice":false,"zero":false},"axis":null},"y":{"datum":1,"type":"quantitative","scale":{"domain":[0,2.2778],"reverse":true,"nice":false,"zero":false},"axis":null},"text":{"value":"EUR"}}},
 {"mark":{"type":"text","align":"left","baseline":"alphabetic","font":"DejaVu Sans","fontSize":28,"color":"#1a86d2"},"encoding":{"x":{"datum":8.2,"type":"quantitative","scale":{"domain":[0,81],"nice":false,"zero":false},"axis":null},"y":{"datum":1,"type":"quantitative","scale":{"domain":[0,2.2778],"reverse":true,"nice":false,"zero":false},"axis":null},"text":{"value":"↓"}}},
 {"mark":{"type":"text","align":"left","baseline":"alphabetic","font":"DejaVu Sans Mono","fontSize":37,"fontWeight":"bold","color":"#000000"},"encoding":{"x":{"datum":12.8125,"type":"quantitative","scale":{"domain":[0,81],"nice":false,"zero":false},"axis":null},"y":{"datum":1,"type":"quantitative","scale":{"domain":[0,2.2778],"reverse":true,"nice":false,"zero":false},"axis":null},"text":{"value":"1.2629"}}},
 {"mark":{"type":"text","align":"left","baseline":"alphabetic","font":"DejaVu Sans Mono","fontSize":37,"fontWeight":"bold","color":"#000000"},"encoding":{"x":{"datum":26.5625,"type":"quantitative","scale":{"domain":[0,81],"nice":false,"zero":false},"axis":null},"y":{"datum":1,"type":"quantitative","scale":{"domain":[0,2.2778],"reverse":true,"nice":false,"zero":false},"axis":null},"text":{"value":"-.0024"}}},
 {"mark":{"type":"text","align":"left","baseline":"alphabetic","font":"DejaVu Sans Mono","fontSize":26.6,"color":"#1a86d2"},"encoding":{"x":{"datum":41.5625,"type":"quantitative","scale":{"domain":[0,81],"nice":false,"zero":false},"axis":null},"y":{"datum":1,"type":"quantitative","scale":{"domain":[0,2.2778],"reverse":true,"nice":false,"zero":false},"axis":null},"text":{"value":"BBRG 1.2629/1.2629 TTOL"}}},
 {"mark":{"type":"text","align":"left","baseline":"alphabetic","font":"DejaVu Sans Mono","fontSize":28,"fontWeight":"bold","color":"#000000"},"encoding":{"x":{"datum":65.5625,"type":"quantitative","scale":{"domain":[0,81],"nice":false,"zero":false},"axis":null},"y":{"datum":1,"type":"quantitative","scale":{"domain":[0,2.2778],"reverse":true,"nice":false,"zero":false},"axis":null},"text":{"value":"Curncy G"}}},
 {"mark":{"type":"text","align":"left","baseline":"alphabetic","font":"DejaVu Sans Mono","fontSize":26.6,"color":"#1a86d2"},"encoding":{"x":{"datum":1.5625,"type":"quantitative","scale":{"domain":[0,81],"nice":false,"zero":false},"axis":null},"y":{"datum":2,"type":"quantitative","scale":{"domain":[0,2.2778],"reverse":true,"nice":false,"zero":false},"axis":null},"text":{"value":"At"}}},
 {"mark":{"type":"text","align":"left","baseline":"alphabetic","font":"DejaVu Sans Mono","fontSize":26.6,"color":"#1a86d2"},"encoding":{"x":{"datum":5.5625,"type":"quantitative","scale":{"domain":[0,81],"nice":false,"zero":false},"axis":null},"y":{"datum":2,"type":"quantitative","scale":{"domain":[0,2.2778],"reverse":true,"nice":false,"zero":false},"axis":null},"text":{"value":"9:19 Op 1.2638"}}},
 {"mark":{"type":"text","align":"left","baseline":"alphabetic","font":"DejaVu Sans Mono","fontSize":26.6,"color":"#1a86d2"},"encoding":{"x":{"datum":22.5625,"type":"quantitative","scale":{"domain":[0,81],"nice":false,"zero":false},"axis":null},"y":{"datum":2,"type":"quantitative","scale":{"domain":[0,2.2778],"reverse":true,"nice":false,"zero":false},"axis":null},"text":{"value":"Hi 1.2651"}}},
 {"mark":{"type":"text","align":"left","baseline":"alphabetic","font":"DejaVu Sans Mono","fontSize":26.6,"color":"#1a86d2"},"encoding":{"x":{"datum":34.5625,"type":"quantitative","scale":{"domain":[0,81],"nice":false,"zero":false},"axis":null},"y":{"datum":2,"type":"quantitative","scale":{"domain":[0,2.2778],"reverse":true,"nice":false,"zero":false},"axis":null},"text":{"value":"Lo 1.2607"}}},
 {"mark":{"type":"text","align":"left","baseline":"alphabetic","font":"DejaVu Sans Mono","fontSize":26.6,"color":"#1a86d2"},"encoding":{"x":{"datum":46.5625,"type":"quantitative","scale":{"domain":[0,81],"nice":false,"zero":false},"axis":null},"y":{"datum":2,"type":"quantitative","scale":{"domain":[0,2.2778],"reverse":true,"nice":false,"zero":false},"axis":null},"text":{"value":"Prev 1.2653"}}},
 {"mark":{"type":"text","align":"left","baseline":"alphabetic","font":"DejaVu Sans Mono","fontSize":26.6,"color":"#000000"},"encoding":{"x":{"datum":64.5625,"type":"quantitative","scale":{"domain":[0,81],"nice":false,"zero":false},"axis":null},"y":{"datum":2,"type":"quantitative","scale":{"domain":[0,2.2778],"reverse":true,"nice":false,"zero":false},"axis":null},"text":{"value":"Value"}}},
 {"mark":{"type":"text","align":"left","baseline":"alphabetic","font":"DejaVu Sans Mono","fontSize":26.6,"color":"#000000"},"encoding":{"x":{"datum":71.5625,"type":"quantitative","scale":{"domain":[0,81],"nice":false,"zero":false},"axis":null},"y":{"datum":2,"type":"quantitative","scale":{"domain":[0,2.2778],"reverse":true,"nice":false,"zero":false},"axis":null},"text":{"value":"6/14/06"}}}
 ]},
{"hconcat":[
 {"width":8,"height":32,"data":{"values":[]},"mark":"rect"},
 {"width":180,"height":32,"view":{"fill":"#a51222"},"data":{"values":[{"label":"Worksheet List"}]},"mark":{"type":"text","color":"#ffffff","fontSize":25},"encoding":{"text":{"field":"label"}}},
 {"width":180,"height":32,"view":{"fill":"#a51222"},"data":{"values":[{"label":"Edit"}]},"mark":{"type":"text","color":"#ffffff","fontSize":25},"encoding":{"text":{"field":"label"}}},
 {"width":180,"height":32,"view":{"fill":"#a51222"},"data":{"values":[{"label":"Options"}]},"mark":{"type":"text","color":"#ffffff","fontSize":25},"encoding":{"text":{"field":"label"}}},
 {"width":729,"height":32,"view":{"fill":"#a51222"},"data":{"values":[{"label":"G 2 - DAILY"}]},"mark":{"type":"text","color":"#ffffff","fontSize":25},"encoding":{"text":{"field":"label"}}}
 ],"spacing":2},
{"width":1296,"height":6,"data":{"values":[]},"mark":"rect"},
{"hconcat":[
 {"width":7,"height":788,"data":{"values":[]},"mark":"rect"},
 {"width":2,"height":788,"view":{"fill":"#000000"},"data":{"values":[]},"mark":"rect"},
 {"width":3,"height":788,"view":{"fill":"#dd8010"},"data":{"values":[]},"mark":"rect"},
 {"vconcat":[
  {"width":1272,"height":1,"view":{"fill":"#000000"},"data":{"values":[]},"mark":"rect"},
  {"width":1272,"height":21,"view":{"fill":"#f08c12"},"data":{"values":[{"s":"EUR EURO SPOT G2 Daily 6/13/05 to 6/12/06"}]},"mark":{"type":"text","fontSize":16,"color":"#000000"},"encoding":{"text":{"field":"s"}}},
  {"width":1224,"height":734,
   "resolve":{"scale":{"color":"independent"}},
   "layer":[
    {"data":{"name":"bars"},"mark":{"type":"rule","strokeWidth":2.6,"clip":true},
     "encoding":{"x":{"field":"t","type":"quantitative","scale":{"domain":[-0.4,382.2],"nice":false,"zero":false},"axis":null},
      "y":{"field":"lo","type":"quantitative","scale":{"type":"log","domain":[1.1625,1.3637],"nice":false},
        "axis":{"orient":"right","title":null,"grid":false,"values":[1.2,1.225,1.25,1.275,1.3,1.325],"labelExpr":"(datum.value==1.2||datum.value==1.25||datum.value==1.3) ? format(datum.value,'.2f') : ''","domain":true,"domainColor":"#8c8c8c","domainWidth":1.5,"ticks":true,"tickColor":"#8c8c8c","tickSize":5,"labelColor":"#000000","labelFontSize":10,"labelPadding":1,"minExtent":48,"maxExtent":48,"labelOverlap":false}},
      "y2":{"field":"hi"},
      "color":{"field":"dir","type":"nominal","scale":{"domain":["up","down"],"range":["#33b533","#a3111f"]},"legend":null}}},
    {"data":{"name":"ema"},"mark":{"type":"line","color":"#22ee22","strokeWidth":1.1,"clip":true},
     "encoding":{"x":{"field":"t","type":"quantitative","scale":{"domain":[-0.4,382.2],"nice":false,"zero":false},"axis":null},
      "y":{"field":"e10","type":"quantitative","scale":{"type":"log","domain":[1.1625,1.3637],"nice":false}}}},
    {"data":{"name":"ema"},"mark":{"type":"line","color":"#f2f200","strokeWidth":1.2,"clip":true},
     "encoding":{"x":{"field":"t","type":"quantitative","scale":{"domain":[-0.4,382.2],"nice":false,"zero":false},"axis":null},
      "y":{"field":"e20","type":"quantitative","scale":{"type":"log","domain":[1.1625,1.3637],"nice":false}}}},
    {"data":{"values":[{"t":-0.3,"t2":31,"p":1.3437},{"t":30.3,"t2":108.75,"p":1.2630},{"t":108.75,"t2":147,"p":1.2473}]},"mark":{"type":"rule","color":"#33dd33","strokeWidth":1.2,"clip":true},
     "encoding":{"x":{"field":"t","type":"quantitative","scale":{"domain":[-0.4,382.2],"nice":false,"zero":false},"axis":null},"x2":{"field":"t2"},
      "y":{"field":"p","type":"quantitative","scale":{"type":"log","domain":[1.1625,1.3637],"nice":false}}}},
    {"data":{"values":[{"t":-0.3,"t2":24.1,"p":1.2737},{"t":266.3,"t2":306.3,"p":1.2100}]},"mark":{"type":"rule","color":"#ff1a1a","strokeWidth":1.6,"strokeDash":[12,8],"clip":true},
     "encoding":{"x":{"field":"t","type":"quantitative","scale":{"domain":[-0.4,382.2],"nice":false,"zero":false},"axis":null},"x2":{"field":"t2"},
      "y":{"field":"p","type":"quantitative","scale":{"type":"log","domain":[1.1625,1.3637],"nice":false}}}},
    {"data":{"values":[{"t":148.8,"t2":193,"p":1.2083},{"t":210,"t2":259.4,"p":1.2264}]},"mark":{"type":"rule","color":"#22dd22","strokeWidth":1.6,"strokeDash":[15,9],"clip":true},
     "encoding":{"x":{"field":"t","type":"quantitative","scale":{"domain":[-0.4,382.2],"nice":false,"zero":false},"axis":null},"x2":{"field":"t2"},
      "y":{"field":"p","type":"quantitative","scale":{"type":"log","domain":[1.1625,1.3637],"nice":false}}}},
    {"data":{"values":[{"t":80.3,"t2":125,"p":1.2063}]},"mark":{"type":"rule","color":"#ff1a1a","strokeWidth":1.2,"clip":true},
     "encoding":{"x":{"field":"t","type":"quantitative","scale":{"domain":[-0.4,382.2],"nice":false,"zero":false},"axis":null},"x2":{"field":"t2"},
      "y":{"field":"p","type":"quantitative","scale":{"type":"log","domain":[1.1625,1.3637],"nice":false}}}},
    {"data":{"values":[{"t":27,"t2":36.3,"p":1.2531}]},"mark":{"type":"rule","color":"#ff22ff","strokeWidth":1.2,"clip":true},
     "encoding":{"x":{"field":"t","type":"quantitative","scale":{"domain":[-0.4,382.2],"nice":false,"zero":false},"axis":null},"x2":{"field":"t2"},
      "y":{"field":"p","type":"quantitative","scale":{"type":"log","domain":[1.1625,1.3637],"nice":false}}}},
    {"data":{"values":[{"t":286,"t2":306.3,"p":1.3140}]},"mark":{"type":"rule","color":"#ff22ff","strokeWidth":1.4,"strokeDash":[12,8],"clip":true},
     "encoding":{"x":{"field":"t","type":"quantitative","scale":{"domain":[-0.4,382.2],"nice":false,"zero":false},"axis":null},"x2":{"field":"t2"},
      "y":{"field":"p","type":"quantitative","scale":{"type":"log","domain":[1.1625,1.3637],"nice":false}}}},
    {"data":{"values":[{"t":158.4,"p":1.1640,"t2":337.2,"p2":1.2127},{"t":229.7,"p":1.2336,"t2":373.1,"p2":1.2669}]},"mark":{"type":"rule","color":"#000000","strokeWidth":3.5,"clip":true},
     "encoding":{"x":{"field":"t","type":"quantitative","scale":{"domain":[-0.4,382.2],"nice":false,"zero":false},"axis":null},"x2":{"field":"t2"},
      "y":{"field":"p","type":"quantitative","scale":{"type":"log","domain":[1.1625,1.3637],"nice":false}},"y2":{"field":"p2"}}},
    {"data":{"values":[{"t":130.9,"p":1.2124,"t2":275,"p2":1.2444}]},"mark":{"type":"rule","color":"#ff1010","strokeWidth":3.5,"clip":true},
     "encoding":{"x":{"field":"t","type":"quantitative","scale":{"domain":[-0.4,382.2],"nice":false,"zero":false},"axis":null},"x2":{"field":"t2"},
      "y":{"field":"p","type":"quantitative","scale":{"type":"log","domain":[1.1625,1.3637],"nice":false}},"y2":{"field":"p2"}}},
    {"data":{"values":[{"t":277.2,"p":1.3358,"t2":282.8,"p2":1.3091},{"t":281.2,"p":1.3137,"t2":282.8,"p2":1.3091},{"t":284.4,"p":1.3137,"t2":282.8,"p2":1.3091},{"t":309.1,"p":1.2588,"t2":317.2,"p2":1.2534},{"t":313.4,"p":1.2539,"t2":317.2,"p2":1.2534},{"t":315.0,"p":1.2561,"t2":317.2,"p2":1.2534}]},"mark":{"type":"rule","color":"#000000","strokeWidth":1,"clip":true},
     "encoding":{"x":{"field":"t","type":"quantitative","scale":{"domain":[-0.4,382.2],"nice":false,"zero":false},"axis":null},"x2":{"field":"t2"},
      "y":{"field":"p","type":"quantitative","scale":{"type":"log","domain":[1.1625,1.3637],"nice":false}},"y2":{"field":"p2"}}},
    {"data":{"name":"td"},"mark":{"type":"text","fontSize":11,"baseline":"middle","align":"center","clip":true},
     "encoding":{"x":{"field":"t","type":"quantitative","scale":{"domain":[-0.4,382.2],"nice":false,"zero":false},"axis":null},
      "y":{"field":"p","type":"quantitative","scale":{"type":"log","domain":[1.1625,1.3637],"nice":false}},
      "text":{"field":"n"},
      "color":{"field":"k","type":"nominal","scale":{"domain":["setup","countdown"],"range":["#22dd22","#ff22ff"]},"legend":null}}},
    {"data":{"values":[{}]},"mark":{"type":"text","fontSize":12.5,"align":"left","baseline":"middle","color":"#1a1aff","clip":true},
     "encoding":{"x":{"datum":223.4,"type":"quantitative","scale":{"domain":[-0.4,382.2],"nice":false,"zero":false},"axis":null},
      "y":{"datum":1.3248,"type":"quantitative","scale":{"type":"log","domain":[1.1625,1.3637],"nice":false}},
      "text":{"value":"SHORT TERM SELL SIGNAL"}}},
    {"data":{"values":[{}]},"mark":{"type":"rect","fill":"#ffffff","stroke":"#000000","strokeWidth":1,"clip":true},
     "encoding":{"x":{"datum":159.7,"type":"quantitative","scale":{"domain":[-0.4,382.2],"nice":false,"zero":false},"axis":null},"x2":{"datum":200.9},
      "y":{"datum":1.3367,"type":"quantitative","scale":{"type":"log","domain":[1.1625,1.3637],"nice":false}},"y2":{"datum":1.3610}}},
    {"data":{"values":[{}]},"mark":{"type":"text","fontSize":8.5,"align":"left","baseline":"top","lineHeight":11,"color":"#000000","clip":true},
     "encoding":{"x":{"datum":160.6,"type":"quantitative","scale":{"domain":[-0.4,382.2],"nice":false,"zero":false},"axis":null},
      "y":{"datum":1.3604,"type":"quantitative","scale":{"type":"log","domain":[1.1625,1.3637],"nice":false}},
      "text":{"value":["Last","High on 04/22/05","Average","Low on 11/16/05"]}}},
    {"data":{"values":[{}]},"mark":{"type":"text","fontSize":8.5,"align":"left","baseline":"top","lineHeight":11,"color":"#22dd22","clip":true},
     "encoding":{"x":{"datum":160.6,"type":"quantitative","scale":{"domain":[-0.4,382.2],"nice":false,"zero":false},"axis":null},
      "y":{"datum":1.3475,"type":"quantitative","scale":{"type":"log","domain":[1.1625,1.3637],"nice":false}},
      "text":{"value":["TD Combo","EMAVG on Close(10)"]}}},
    {"data":{"values":[{}]},"mark":{"type":"text","fontSize":8.5,"align":"left","baseline":"top","color":"#000000","clip":true},
     "encoding":{"x":{"datum":160.6,"type":"quantitative","scale":{"domain":[-0.4,382.2],"nice":false,"zero":false},"axis":null},
      "y":{"datum":1.3411,"type":"quantitative","scale":{"type":"log","domain":[1.1625,1.3637],"nice":false}},
      "text":{"value":"EMAVG on Close(20)"}}},
    {"data":{"values":[{}]},"mark":{"type":"text","fontSize":8.5,"align":"right","baseline":"top","lineHeight":11,"color":"#000000","clip":true},
     "encoding":{"x":{"datum":199.8,"type":"quantitative","scale":{"domain":[-0.4,382.2],"nice":false,"zero":false},"axis":null},
      "y":{"datum":1.3604,"type":"quantitative","scale":{"type":"log","domain":[1.1625,1.3637],"nice":false}},
      "text":{"value":["1.2629","1.3124","1.2232","1.1640"]}}},
    {"data":{"values":[{}]},"mark":{"type":"text","fontSize":8.5,"align":"right","baseline":"top","color":"#22dd22","clip":true},
     "encoding":{"x":{"datum":199.8,"type":"quantitative","scale":{"domain":[-0.4,382.2],"nice":false,"zero":false},"axis":null},
      "y":{"datum":1.3443,"type":"quantitative","scale":{"type":"log","domain":[1.1625,1.3637],"nice":false}},
      "text":{"value":"1.2762"}}},
    {"data":{"values":[{}]},"mark":{"type":"text","fontSize":8.5,"align":"right","baseline":"top","color":"#000000","clip":true},
     "encoding":{"x":{"datum":199.8,"type":"quantitative","scale":{"domain":[-0.4,382.2],"nice":false,"zero":false},"axis":null},
      "y":{"datum":1.3411,"type":"quantitative","scale":{"type":"log","domain":[1.1625,1.3637],"nice":false}},
      "text":{"value":"1.2759"}}}
   ]},
  {"hconcat":[
   {"vconcat":[
    {"width":1224,"height":1,"view":{"fill":"#000000"},"data":{"values":[]},"mark":"rect"},
    {"width":1224,"height":13,"data":{"name":"days"},
     "layer":[
      {"mark":{"type":"rule","color":"#000000","strokeWidth":1,"clip":true},"encoding":{"x":{"field":"t","type":"quantitative","scale":{"domain":[-0.4,382.2],"nice":false,"zero":false},"axis":null}}},
      {"mark":{"type":"text","align":"left","dx":2,"fontSize":9.5,"color":"#000000","clip":true},"encoding":{"x":{"field":"t","type":"quantitative","scale":{"domain":[-0.4,382.2],"nice":false,"zero":false},"axis":null},"text":{"field":"lab"}}}
     ]},
    {"width":1224,"height":1,"view":{"fill":"#000000"},"data":{"values":[]},"mark":"rect"},
    {"width":1224,"height":12,"data":{"name":"months"},
     "layer":[
      {"mark":{"type":"rule","color":"#000000","strokeWidth":1,"clip":true},"encoding":{"x":{"field":"t0","type":"quantitative","scale":{"domain":[-0.4,382.2],"nice":false,"zero":false},"axis":null}}},
      {"mark":{"type":"text","align":"center","fontSize":9.5,"color":"#000000","clip":true},"encoding":{"x":{"field":"tm","type":"quantitative","scale":{"domain":[-0.4,382.2],"nice":false,"zero":false},"axis":null},"text":{"field":"m"}}}
     ]},
    {"width":1224,"height":1,"view":{"fill":"#000000"},"data":{"values":[]},"mark":"rect"}
   ],"spacing":0},
   {"width":48,"height":28,"view":{"fill":"#000000"},"data":{"values":[]},"mark":"rect"}
  ],"spacing":0},
  {"width":1272,"height":2,"view":{"fill":"#dd8010"},"data":{"values":[]},"mark":"rect"},
  {"width":1272,"height":2,"view":{"fill":"#000000"},"data":{"values":[]},"mark":"rect"}
 ],"spacing":0},
 {"width":3,"height":788,"view":{"fill":"#dd8010"},"data":{"values":[]},"mark":"rect"},
 {"width":2,"height":788,"view":{"fill":"#000000"},"data":{"values":[]},"mark":"rect"}
],"spacing":0},
{"width":1296,"height":62,"data":{"values":[{}]},
 "layer":[
  {"mark":{"type":"text","align":"left","baseline":"middle","font":"DejaVu Sans Mono","fontSize":17.7,"color":"#000000"},"encoding":{"x":{"datum":1.69,"type":"quantitative","scale":{"domain":[0,121.6],"nice":false,"zero":false},"axis":null},"y":{"datum":0,"type":"quantitative","scale":{"domain":[-0.5,2.763],"reverse":true,"nice":false,"zero":false},"axis":null},"text":{"value":"Australia 61 2 9777 8600"}}},
  {"mark":{"type":"text","align":"left","baseline":"middle","font":"DejaVu Sans Mono","fontSize":17.7,"color":"#000000"},"encoding":{"x":{"datum":34.7,"type":"quantitative","scale":{"domain":[0,121.6],"nice":false,"zero":false},"axis":null},"y":{"datum":0,"type":"quantitative","scale":{"domain":[-0.5,2.763],"reverse":true,"nice":false,"zero":false},"axis":null},"text":{"value":"Brazil 5511 3048 4500"}}},
  {"mark":{"type":"text","align":"left","baseline":"middle","font":"DejaVu Sans Mono","fontSize":17.7,"color":"#000000"},"encoding":{"x":{"datum":65.76,"type":"quantitative","scale":{"domain":[0,121.6],"nice":false,"zero":false},"axis":null},"y":{"datum":0,"type":"quantitative","scale":{"domain":[-0.5,2.763],"reverse":true,"nice":false,"zero":false},"axis":null},"text":{"value":"Europe 44 20 7330 7500"}}},
  {"mark":{"type":"text","align":"left","baseline":"middle","font":"DejaVu Sans Mono","fontSize":17.7,"color":"#000000"},"encoding":{"x":{"datum":96.8,"type":"quantitative","scale":{"domain":[0,121.6],"nice":false,"zero":false},"axis":null},"y":{"datum":0,"type":"quantitative","scale":{"domain":[-0.5,2.763],"reverse":true,"nice":false,"zero":false},"axis":null},"text":{"value":"Germany 49 69 920410"}}},
  {"mark":{"type":"text","align":"left","baseline":"middle","font":"DejaVu Sans Mono","fontSize":17.7,"color":"#000000"},"encoding":{"x":{"datum":1.69,"type":"quantitative","scale":{"domain":[0,121.6],"nice":false,"zero":false},"axis":null},"y":{"datum":1,"type":"quantitative","scale":{"domain":[-0.5,2.763],"reverse":true,"nice":false,"zero":false},"axis":null},"text":{"value":"Hong Kong 852 2977 6000 Japan 81 3 3201 8900 Singapore 65 6212 1000 U.S. 1 212 318 2000 Copyright 2006 Bloomberg L.P."}}},
  {"mark":{"type":"text","align":"left","baseline":"middle","font":"DejaVu Sans Mono","fontSize":17.7,"color":"#000000"},"encoding":{"x":{"datum":98.78,"type":"quantitative","scale":{"domain":[0,121.6],"nice":false,"zero":false},"axis":null},"y":{"datum":2,"type":"quantitative","scale":{"domain":[-0.5,2.763],"reverse":true,"nice":false,"zero":false},"axis":null},"text":{"value":"3 12-Jun-06"}}},
  {"mark":{"type":"text","align":"left","baseline":"middle","font":"DejaVu Sans Mono","fontSize":17.7,"color":"#000000"},"encoding":{"x":{"datum":111.78,"type":"quantitative","scale":{"domain":[0,121.6],"nice":false,"zero":false},"axis":null},"y":{"datum":2,"type":"quantitative","scale":{"domain":[0,2.763],"reverse":true,"nice":false,"zero":false},"axis":null},"text":{"value":"9:19:12"}}}
 ]}
]
}
